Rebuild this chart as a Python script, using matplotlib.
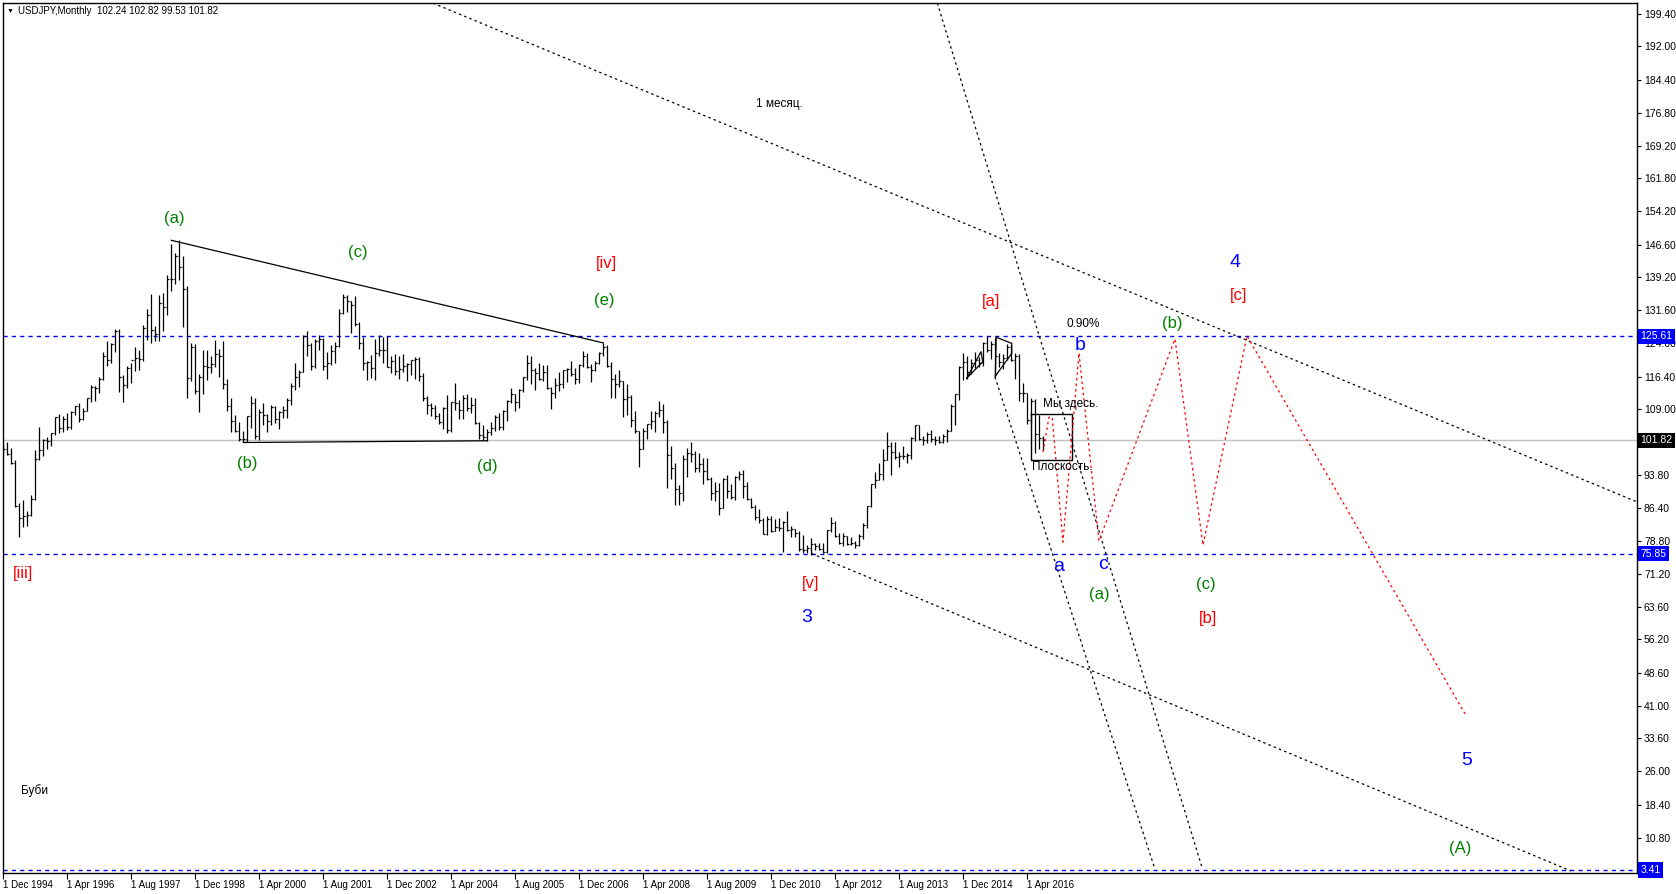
import numpy as np
import matplotlib.pyplot as plt
from matplotlib.collections import LineCollection

plt.rcParams['font.family'] = ['Liberation Sans', 'DejaVu Sans']

# USDJPY monthly bars, Dec 1994 .. Aug 2016 (month index 0 = Dec 1994)
first_open = 98.9
highs = [
    101.0,
    101.5, 100.0, 97.3, 87.4, 88.1, 85.6, 89.3, 99.6, 104.9, 102.0, 102.5, 103.5,  # 1995
    107.2, 107.9, 107.4, 108.0, 108.6, 109.7, 110.3, 109.3, 111.5, 114.5, 114.3, 116.2,  # 1996
    122.0, 124.6, 124.1, 127.4, 127.2, 116.7, 118.8, 119.6, 123.1, 122.4, 128.2, 131.8,  # 1997
    135.3, 128.0, 135.0, 135.5, 139.6, 146.8, 144.8, 147.6, 143.9, 137.2, 124.1, 123.8,  # 1998
    117.0, 122.5, 122.4, 121.0, 124.8, 122.7, 124.5, 115.8, 111.6, 107.5, 106.0, 104.0,  # 1999
    107.4, 112.0, 111.4, 109.0, 110.4, 107.9, 110.0, 109.7, 108.4, 109.6, 111.5, 115.0,  # 2000
    119.4, 118.0, 126.0, 126.8, 124.0, 125.0, 126.0, 125.3, 122.0, 123.6, 124.4, 131.8,  # 2001
    135.2, 135.0, 133.8, 134.8, 129.0, 125.4, 120.0, 121.4, 125.0, 126.0, 125.4, 125.6,  # 2002
    121.0, 121.5, 121.0, 121.5, 119.5, 120.3, 120.8, 120.8, 117.1, 112.0, 110.3, 109.8,  # 2003
    108.0, 109.5, 112.2, 110.5, 114.9, 111.0, 112.2, 112.3, 111.8, 111.5, 106.0, 105.2,  # 2004
    104.4, 106.0, 107.5, 108.1, 108.7, 111.0, 113.7, 112.5, 113.6, 116.4, 121.4, 121.0,  # 2005
    118.3, 119.4, 119.0, 119.0, 114.0, 116.0, 117.4, 118.0, 118.4, 119.9, 118.3, 119.2,  # 2006
    122.2, 121.9, 119.3, 120.0, 122.1, 124.1, 123.7, 119.8, 117.0, 117.9, 115.4, 114.7,  # 2007
    112.1, 108.6, 104.0, 104.6, 105.6, 108.5, 108.6, 110.7, 110.2, 106.4, 100.5, 96.5,  # 2008
    91.5, 98.5, 100.0, 101.4, 99.4, 98.9, 97.8, 97.8, 93.3, 92.3, 92.0, 93.2,  # 2009
    93.8, 91.8, 93.7, 94.8, 94.9, 92.2, 88.7, 87.0, 86.0, 83.9, 84.4, 84.5,  # 2010
    83.7, 84.0, 83.3, 85.5, 82.2, 81.6, 81.0, 80.2, 77.8, 79.5, 78.3, 78.3,  # 2011
    78.3, 81.3, 84.2, 83.3, 80.6, 80.6, 80.0, 79.6, 78.8, 80.4, 82.8, 86.8,  # 2012
    91.7, 94.5, 96.7, 99.9, 103.7, 101.5, 101.5, 99.1, 100.6, 99.0, 102.6, 105.4,  # 2013
    105.4, 102.8, 103.8, 104.1, 102.7, 102.8, 103.2, 104.5, 110.1, 112.5, 118.9, 121.9,  # 2014
    121.0, 120.5, 122.0, 120.9, 124.4, 125.6, 124.6, 125.3, 121.7, 121.5, 123.8, 123.7,  # 2015
    121.7, 121.6, 114.9, 112.7, 111.4, 111.3, 107.5, 102.82,  # 2016
]
lows = [
    98.4,
    98.5, 96.3, 86.6, 79.75, 82.0, 82.2, 84.5, 88.1, 97.3, 98.2, 99.8, 100.5,  # 1995
    103.0, 103.5, 103.8, 104.2, 104.5, 107.7, 105.9, 106.4, 108.6, 110.6, 110.7, 112.6,  # 1996
    115.7, 118.9, 119.6, 122.0, 112.8, 110.6, 113.7, 115.0, 117.7, 117.9, 120.0, 124.8,  # 1997
    124.1, 124.6, 124.6, 126.8, 130.6, 135.9, 137.6, 138.5, 127.7, 111.4, 115.4, 112.4,  # 1998
    108.3, 112.5, 115.7, 117.2, 118.5, 116.4, 113.6, 108.6, 103.8, 103.7, 101.6, 101.3,  # 1999
    101.5, 104.7, 102.0, 101.8, 105.4, 103.8, 105.4, 105.8, 104.5, 106.9, 106.8, 109.8,  # 2000
    113.3, 114.0, 117.4, 121.0, 118.0, 118.4, 122.5, 117.8, 115.8, 119.0, 119.5, 123.2,  # 2001
    130.8, 131.2, 126.4, 127.9, 122.8, 118.0, 115.5, 116.0, 115.6, 121.0, 119.4, 118.6,  # 2002
    117.3, 116.7, 115.9, 117.4, 115.3, 116.8, 115.8, 115.4, 110.9, 107.9, 107.4, 106.6,  # 2003
    105.6, 104.3, 103.4, 103.8, 108.8, 106.6, 106.6, 108.5, 108.0, 105.6, 102.1, 101.8,  # 2004
    101.7, 103.1, 103.9, 104.2, 104.1, 106.2, 110.4, 108.6, 109.3, 112.8, 115.7, 114.6,  # 2005
    113.4, 115.5, 115.4, 113.5, 108.9, 111.5, 113.2, 113.8, 115.2, 116.6, 114.7, 115.0,  # 2006
    118.5, 118.3, 115.2, 117.6, 119.2, 121.1, 118.6, 111.6, 111.6, 114.0, 107.2, 107.6,  # 2007
    104.9, 103.5, 95.8, 99.7, 102.0, 104.5, 103.8, 107.2, 103.5, 90.9, 92.9, 86.9,  # 2008
    87.1, 87.8, 93.5, 96.8, 94.5, 94.5, 91.7, 92.7, 88.2, 88.0, 84.8, 86.3,  # 2009
    88.7, 88.4, 88.1, 92.6, 88.7, 88.2, 86.2, 83.6, 82.9, 80.3, 80.2, 80.9,  # 2010
    81.0, 81.0, 76.3, 81.1, 79.6, 79.7, 76.4, 75.9, 75.9, 75.6, 76.6, 76.6,  # 2011
    76.0, 76.1, 80.9, 79.6, 78.0, 77.6, 77.9, 77.9, 77.1, 77.6, 79.1, 81.7,  # 2012
    86.6, 90.8, 92.6, 92.6, 97.3, 93.8, 97.6, 95.8, 97.6, 96.6, 97.6, 101.6,  # 2013
    101.8, 100.8, 101.2, 101.4, 100.8, 101.2, 101.1, 101.5, 104.0, 105.2, 111.0, 115.6,  # 2014
    115.9, 116.9, 118.3, 118.5, 118.9, 122.0, 120.4, 116.2, 118.6, 118.1, 120.2, 119.9,  # 2015
    115.9, 110.9, 110.6, 105.5, 105.5, 98.9, 99.9, 99.53,  # 2016
]
closes = [
    99.7,
    98.6, 96.6, 86.7, 84.1, 84.5, 84.7, 88.4, 97.5, 99.5, 101.8, 101.6, 103.4,  # 1995
    107.1, 104.7, 106.7, 104.8, 108.2, 109.6, 106.6, 108.6, 111.4, 114.0, 113.7, 115.8,  # 1996
    121.2, 120.3, 123.9, 126.8, 116.3, 114.5, 118.4, 120.2, 120.6, 120.5, 127.5, 130.4,  # 1997
    127.1, 126.1, 133.3, 132.3, 138.8, 138.8, 144.0, 141.6, 136.5, 116.0, 123.1, 113.2,  # 1998
    116.4, 118.8, 118.5, 119.3, 121.5, 121.0, 114.6, 109.7, 106.3, 104.0, 102.0, 102.2,  # 1999
    107.3, 110.3, 102.8, 108.2, 107.7, 106.2, 109.5, 106.6, 108.3, 108.7, 111.0, 114.3,  # 2000
    116.4, 117.4, 125.6, 123.6, 118.8, 124.6, 124.9, 118.8, 119.4, 122.3, 123.5, 131.0,  # 2001
    134.7, 133.7, 132.8, 128.5, 124.0, 119.6, 119.8, 118.4, 121.8, 122.4, 122.4, 118.7,  # 2002
    119.9, 117.7, 118.1, 118.9, 119.3, 120.1, 120.5, 116.6, 111.4, 109.8, 109.3, 107.3,  # 2003
    105.9, 109.1, 104.1, 110.5, 110.3, 108.7, 111.5, 109.3, 110.0, 105.8, 103.1, 102.6,  # 2004
    103.6, 104.6, 107.1, 104.9, 108.4, 110.9, 112.4, 110.6, 113.3, 116.3, 119.6, 117.8,  # 2005
    117.2, 115.8, 117.5, 113.8, 112.6, 114.4, 114.7, 117.8, 118.1, 117.0, 115.8, 119.0,  # 2006
    121.0, 118.5, 117.8, 119.5, 121.7, 123.2, 118.8, 115.8, 114.8, 115.4, 111.2, 111.7,  # 2007
    106.4, 103.9, 99.7, 104.0, 105.5, 106.2, 108.1, 108.7, 106.1, 98.5, 95.4, 90.7,  # 2008
    89.8, 97.6, 98.9, 98.6, 95.4, 96.4, 94.7, 93.0, 89.7, 90.1, 86.4, 93.0,  # 2009
    90.3, 88.9, 93.5, 94.2, 91.3, 88.4, 86.5, 84.2, 83.5, 80.4, 83.7, 81.1,  # 2010
    82.0, 81.8, 83.1, 81.2, 81.5, 80.6, 76.8, 76.7, 77.1, 78.1, 77.6, 76.9,  # 2011
    76.2, 81.2, 82.9, 80.0, 78.3, 79.8, 78.1, 78.4, 77.9, 79.8, 82.5, 86.7,  # 2012
    91.7, 92.6, 94.2, 97.4, 100.5, 99.1, 97.9, 98.1, 98.3, 98.4, 102.4, 105.3,  # 2013
    102.0, 101.8, 103.2, 102.2, 101.8, 101.3, 102.8, 104.0, 109.7, 112.3, 118.6, 119.8,  # 2014
    117.5, 119.6, 120.1, 119.4, 124.1, 122.5, 123.9, 121.2, 119.8, 120.6, 123.1, 120.2,  # 2015
    121.1, 112.7, 112.6, 106.5, 110.7, 103.2, 102.24, 101.82,  # 2016
]
opens = [first_open] + closes[:-1]

# horizontal levels
blue_levels = [125.61, 75.85, 3.41]
current_price = 101.82

# axis ticks
ytick_vals = [199.40, 192.00, 184.40, 176.80, 169.20, 161.80, 154.20, 146.60, 139.20,
              131.60, 124.00, 116.40, 109.00, 93.80, 86.40, 78.80, 71.20, 63.60,
              56.20, 48.60, 41.00, 33.60, 26.00, 18.40, 10.80]
xtick_pos = list(range(0, 257, 16))
xtick_labels = ['1 Dec 1994', '1 Apr 1996', '1 Aug 1997', '1 Dec 1998', '1 Apr 2000',
                '1 Aug 2001', '1 Dec 2002', '1 Apr 2004', '1 Aug 2005', '1 Dec 2006',
                '1 Apr 2008', '1 Aug 2009', '1 Dec 2010', '1 Apr 2012', '1 Aug 2013',
                '1 Dec 2014', '1 Apr 2016']

# drawn objects (month index, price)
triangle_top = [(42, 147.6), (150, 124.1)]
triangle_base = [(60, 101.3), (121, 101.7)]
small_tri1 = [(240.85, 116.0), (244.4, 122.1), (244.85, 119.8), (240.85, 116.0)]
small_tri2 = [(248.0, 116.5), (248.2, 125.4), (252.1, 124.0), (252.1, 121.7), (248.0, 116.5)]
box = [(257.0, 107.9), (267.2, 97.4)]
dotted_lines = [
    [(107.4, 201.9), (408.4, 87.7)],
    [(202.1, 75.85), (391.9, 3.18)],
    [(233.5, 201.9), (299.7, 3.87)],
    [(247.9, 116.3), (287.8, 3.87)],
]
forecast_m = [259.9, 261.4, 262.2, 264.9, 268.9, 273.9, 292.9, 299.9, 310.9, 365.7]
forecast_p = [99.1, 107.1, 107.1, 78.5, 121.8, 78.75, 125.0, 77.8, 125.7, 38.7]

GREEN, RED, BLUE = '#008000', '#ff0000', '#0000ff'
wave_labels = [
    ('(a)', 42.7, 152.5, GREEN, 12), ('(c)', 88.7, 144.7, GREEN, 12),
    ('[iv]', 150.9, 142.4, RED, 12), ('(e)', 150.2, 133.9, GREEN, 12),
    ('(b)', 60.9, 96.6, GREEN, 12), ('(d)', 120.9, 95.9, GREEN, 12),
    ('[iii]', 4.8, 71.4, RED, 12), ('[v]', 201.9, 68.9, RED, 12),
    ('3', 200.9, 61.3, BLUE, 14), ('[a]', 246.9, 133.7, RED, 12),
    ('b', 269.2, 123.4, BLUE, 14), ('a', 263.7, 72.9, BLUE, 14),
    ('c', 274.9, 73.3, BLUE, 14), ('(a)', 273.9, 66.6, GREEN, 12),
    ('(b)', 292.3, 128.6, GREEN, 12), ('(c)', 300.7, 68.7, GREEN, 12),
    ('[b]', 301.2, 61.1, RED, 12), ('4', 307.8, 142.6, BLUE, 14),
    ('[c]', 308.7, 134.9, RED, 12), ('5', 365.8, 28.4, BLUE, 14),
    ('(A)', 364.2, 8.4, GREEN, 12),
]
notes = [
    ('0.90%', 269.9, 128.4), ('Мы здесь.', 266.9, 110.1), ('Плоскость.', 264.8, 95.7),
    ('1 месяц.', 193.9, 178.8), ('Буби', 7.7, 21.7),
]


def main():
    W, H = 1676, 894
    fig = plt.figure(figsize=(W / 100, H / 100), dpi=100)
    ax = fig.add_axes([3 / W, 21 / H, 1634 / W, 870 / H])
    ax.set_xlim(-0.075, 408.4)
    ax.set_ylim(2.72, 201.94)

    # levels
    ax.axhline(current_price, color='#c0c0c0', lw=1.0, zorder=1)
    for lv in blue_levels:
        ax.axhline(lv, color=BLUE, lw=1.0, ls=(0, (3, 3)), zorder=1)

    # OHLC bars
    m = np.arange(len(closes))
    segs = []
    for i in m:
        segs.append([(i, lows[i]), (i, highs[i])])
        segs.append([(i - 0.4, opens[i]), (i, opens[i])])
        segs.append([(i, closes[i]), (i + 0.4, closes[i])])
    ax.add_collection(LineCollection(segs, colors='black', linewidths=0.9, zorder=3))

    # triangle and drawings
    for pts in (triangle_top, triangle_base, small_tri1, small_tri2):
        xs, ys = zip(*pts)
        ax.plot(xs, ys, color='black', lw=0.9, zorder=4)
    (x0, y0), (x1, y1) = box
    ax.plot([x0, x1, x1, x0, x0], [y0, y0, y1, y1, y0], color='black', lw=1.0, zorder=4)
    for pts in dotted_lines:
        xs, ys = zip(*pts)
        ax.plot(xs, ys, color='black', lw=0.9, ls=(0, (2, 2.5)), zorder=2)
    ax.plot(forecast_m, forecast_p, color=RED, lw=0.9, ls=(0, (2, 2.5)), zorder=4)

    for txt, x, y, col, fs in wave_labels:
        ax.text(x, y, txt, color=col, fontsize=fs, ha='center', va='center', zorder=5)
    for txt, x, y in notes:
        ax.text(x, y, txt, color='black', fontsize=8.5, ha='center', va='center', zorder=5)

    # right price scale
    ax.yaxis.tick_right()
    ax.set_yticks(ytick_vals)
    ax.set_yticklabels(['%.2f' % v for v in ytick_vals])
    ax.tick_params(axis='y', direction='out', length=3, width=0.8, pad=2, labelsize=7.5)
    for lv in blue_levels:
        ax.annotate('%.2f' % lv, xy=(1, lv), xycoords=('axes fraction', 'data'),
                    xytext=(2.5, 0), textcoords='offset points', va='center', ha='left',
                    fontsize=7.5, color='white', zorder=6, annotation_clip=False,
                    bbox=dict(boxstyle='square,pad=0.25', fc=BLUE, ec='none'))
    ax.annotate('%.2f' % current_price, xy=(1, current_price), xycoords=('axes fraction', 'data'),
                xytext=(2.5, 0), textcoords='offset points', va='center', ha='left',
                fontsize=7.5, color='white', zorder=6, annotation_clip=False,
                bbox=dict(boxstyle='square,pad=0.25', fc='black', ec='none'))

    # time scale
    ax.set_xticks(xtick_pos)
    ax.set_xticklabels(xtick_labels, ha='left')
    ax.tick_params(axis='x', direction='out', length=4, width=0.8, pad=1, labelsize=7)

    for sp in ax.spines.values():
        sp.set_color('black')
        sp.set_linewidth(1.0)

    fig.text(10 / W, 1 - 11 / H, '▼', fontsize=5, va='center', ha='center')
    fig.text(18 / W, 1 - 11 / H, 'USDJPY,Monthly  102.24 102.82 99.53 101.82',
             fontsize=7, va='center', ha='left')

    fig.savefig('out.png', dpi=100)


if __name__ == "__main__":
    main()
